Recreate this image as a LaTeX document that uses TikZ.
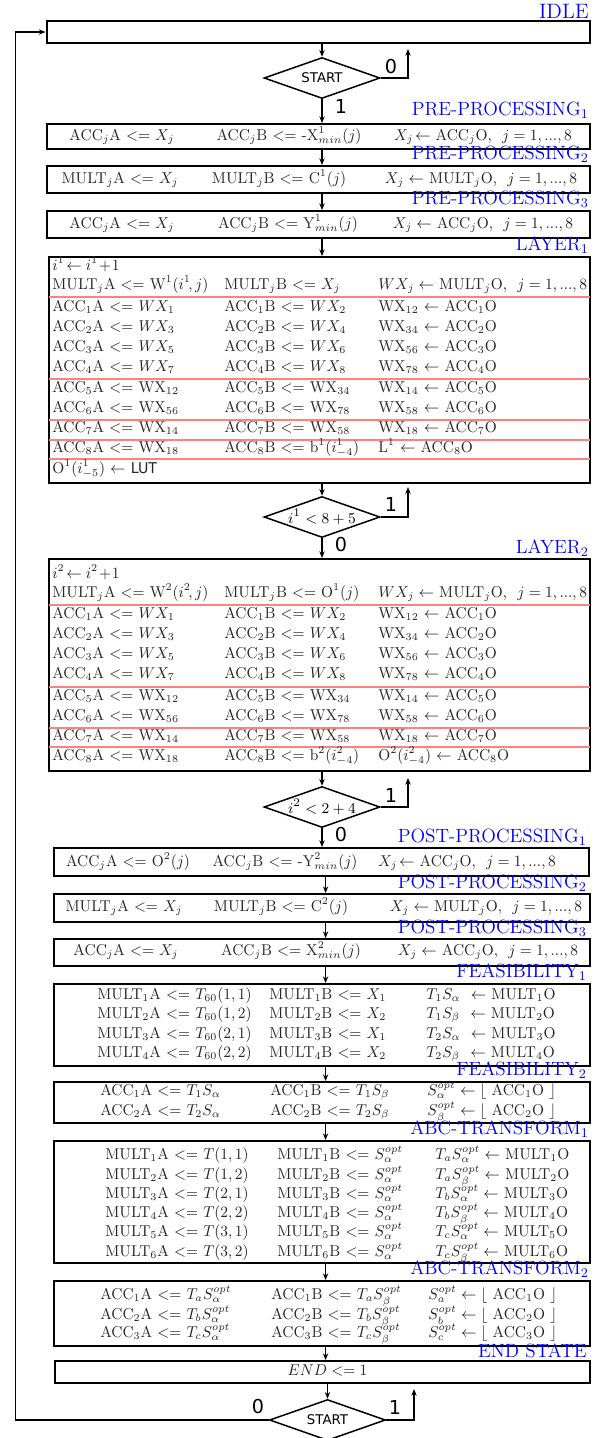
\documentclass[tikz,border=0pt]{standalone}
\usepackage{fontspec}
\usepackage{graphicx}
\newfontfamily\dejavu{DejaVu Sans}
\usetikzlibrary{shapes.geometric,arrows.meta,fit}
\newcommand{\sv}[1]{\scalebox{1}[1.05]{#1}}
\newcommand{\svl}[1]{#1}
\begin{document}
\begin{tikzpicture}[x=0.6pt,y=-0.6pt,
  box/.style={draw, line width=1.2pt, inner sep=0pt},
  tx/.style={text=black!85, font=\fontsize{9}{11}\selectfont, inner sep=0pt, anchor=mid},
  txl/.style={tx, anchor=mid west},
  lbl/.style={text=blue, font=\fontsize{11.5}{13}\selectfont, anchor=base east, inner sep=0pt},
  dec/.style={draw, diamond, line width=0.9pt, minimum width=69.6pt, minimum height=24.6pt, inner sep=0pt, aspect=2.83, font=\fontsize{9.5}{11}\selectfont},
  arr/.style={line width=0.9pt, -{Stealth[length=4pt,width=3.2pt]}},
  yn/.style={font=\dejavu\fontsize{11.5}{13}\selectfont, inner sep=0pt},
  sep/.style={draw=red!50, line width=1.1pt}]
\useasboundingbox (0,0) rectangle (605,1438);

% ---------- boxes ----------
\node[box, fit={(46.5,21) (590,43)}] (idle) {};
\node[box, fit={(46.5,124) (590,149)}] (pre1) {};
\node[box, fit={(46.5,166) (590,193)}] (pre2) {};
\node[box, fit={(46.5,211) (590,238)}] (pre3) {};
\node[box, fit={(49,257) (590,483)}] (lay1) {};
\node[box, fit={(49,559) (590,771)}] (lay2) {};
\node[box, fit={(53.5,848) (589,876)}] (post1) {};
\node[box, fit={(53.5,894) (590,922)}] (post2) {};
\node[box, fit={(53.5,939) (590,966)}] (post3) {};
\node[box, fit={(53.5,984) (590,1066)}] (feas1) {};
\node[box, fit={(53.5,1082) (590,1123)}] (feas2) {};
\node[box, fit={(54,1141) (590,1263)}] (abc1) {};
\node[box, fit={(54,1281) (590,1346)}] (abc2) {};
\node[box, fit={(55.4,1361) (590,1383)}] (endb) {};

% ---------- state labels ----------
\node[lbl, font=\fontsize{12.5}{15}\selectfont] (lidle) at (589,18) {IDLE};
\node[lbl] (lpre1) at (589,115.5) {PRE-PROCESSING$_1$};
\node[lbl] (lpre2) at (589,159.5) {PRE-PROCESSING$_2$};
\node[lbl] (lpre3) at (589,204.5) {PRE-PROCESSING$_3$};
\node[lbl] (llay1) at (589,250.5) {LAYER$_1$};
\node[lbl] (llay2) at (589,553.5) {LAYER$_2$};
\node[lbl] (lpost1) at (587,842.5) {POST-PROCESSING$_1$};
\node[lbl] (lpost2) at (587,888.5) {POST-PROCESSING$_2$};
\node[lbl] (lpost3) at (587,933.5) {POST-PROCESSING$_3$};
\node[lbl] (lfeas1) at (587,977.5) {FEASIBILITY$_1$};
\node[lbl] (lfeas2) at (587,1075.5) {FEASIBILITY$_2$};
\node[lbl] (labc1) at (589,1134.5) {ABC-TRANSFORM$_1$};
\node[lbl] (labc2) at (589,1274.5) {ABC-TRANSFORM$_2$};
\node[lbl] (lend) at (587,1357.5) {END STATE};

% ---------- decisions ----------
\node[dec] (d1) at (322,78) {\dejavu\fontsize{8}{9}\selectfont START};
\node[dec] (d2) at (322,517) {$i^1 < 8+5$};
\node[dec] (d3) at (322,807) {$i^2 < 2+4$};
\node[dec] (d4) at (327.5,1420) {\dejavu\fontsize{8}{9}\selectfont START};

\node[yn] (y1a) at (391,67) {0};
\node[yn] (y1b) at (341,107) {1};
\node[yn] (y2a) at (391,505) {1};
\node[yn] (y2b) at (341,545) {0};
\node[yn] (y3a) at (391,795) {1};
\node[yn] (y3b) at (341,835) {0};
\node[yn] (y4a) at (395,1407) {1};
\node[yn] (y4b) at (258,1407) {0};

% ---------- connectors ----------
\coordinate (ca) at (325.6,0);
\coordinate (r1) at (408,49);
\coordinate (r2) at (408,487);
\coordinate (r3) at (408,778);
\coordinate (r4) at (414,1389);
\coordinate (lc) at (15.5,1420);
\draw[arr] (d1 |- idle.south) -- (d1.north);
\draw[arr] (d1.east) -| (r1);
\draw[arr] (d1.south) -- (d1 |- pre1.north);
\draw[arr] (d1 |- pre1.south) -- (d1 |- pre2.north);
\draw[arr] (d1 |- pre2.south) -- (d1 |- pre3.north);
\draw[arr] (d1 |- pre3.south) -- (d1 |- lay1.north);
\draw[arr] (d2 |- lay1.south) -- (d2.north);
\draw[arr] (d2.east) -| (r2);
\draw[arr] (d2.south) -- (d2 |- lay2.north);
\draw[arr] (d3 |- lay2.south) -- (d3.north);
\draw[arr] (d3.east) -| (r3);
\draw[arr] (d3.south) -- (d3 |- post1.north);
\draw[arr] (ca |- post1.south) -- (ca |- post2.north);
\draw[arr] (ca |- post2.south) -- (ca |- post3.north);
\draw[arr] (ca |- post3.south) -- (ca |- feas1.north);
\draw[arr] (ca |- feas1.south) -- (ca |- feas2.north);
\draw[arr] (ca |- feas2.south) -- (ca |- abc1.north);
\draw[arr] (ca |- abc1.south) -- (ca |- abc2.north);
\draw[arr] (ca |- abc2.south) -- (ca |- endb.north);
\draw[arr] (d4 |- endb.south) -- (d4.north);
\draw[arr] (d4.east) -| (r4);
\draw[arr] (d4.west) -- (lc) |- (idle.west);

% ---------- pre-processing ----------
\node[tx] (p1a) at (122,137) {\sv{ACC$_j$A $<=$ $X_j$}};
\node[tx] (p1b) at (289,137) {\sv{ACC$_j$B $<=$ -X$^1_{min}(j)$}};
\node[tx] (p1c) at (483,137) {\sv{$X_j\!\leftarrow$ ACC$_j$O,\ \ $j=1,...,8$}};
\node[tx] (p2a) at (120,180) {\sv{MULT$_j$A $<=$ $X_j$}};
\node[tx] (p2b) at (279,180) {\sv{MULT$_j$B $<=$ C$^1(j)$}};
\node[tx] (p2c) at (481,180) {\sv{$X_j\leftarrow$ MULT$_j$O,\ \ $j=1,...,8$}};
\node[tx] (p3a) at (122,225) {\sv{ACC$_j$A $<=$ $X_j$}};
\node[tx] (p3b) at (288,225) {\sv{ACC$_j$B $<=$ Y$^1_{min}(j)$}};
\node[tx] (p3c) at (483,225) {\sv{$X_j\leftarrow$ ACC$_j$O,\ \ $j=1,...,8$}};

% ---------- layer 1 ----------
\foreach \yy in {297,379,420,440,459} \draw[sep] (49,\yy) -- (590,\yy);
\node[txl] (l1r0) at (52,267) {\sv{$i^1\!\leftarrow i^1\!+\!1$}};
\foreach [count=\k] \yy/\a/\b/\c in {
  286/{MULT$_j$A $<=$ W$^1(i^1\!,j)$}/{MULT$_j$B $<=$ $X_j$}/{$WX_j\leftarrow$ MULT$_j$O,\ \ $j=1,...,8$},
  308/{ACC$_1$A $<=$ $WX_1$}/{ACC$_1$B $<=$ $WX_2$}/{WX$_{12}$ $\leftarrow$ ACC$_1$O},
  328/{ACC$_2$A $<=$ $WX_3$}/{ACC$_2$B $<=$ $WX_4$}/{WX$_{34}$ $\leftarrow$ ACC$_2$O},
  348/{ACC$_3$A $<=$ $WX_5$}/{ACC$_3$B $<=$ $WX_6$}/{WX$_{56}$ $\leftarrow$ ACC$_3$O},
  368/{ACC$_4$A $<=$ $WX_7$}/{ACC$_4$B $<=$ $WX_8$}/{WX$_{78}$ $\leftarrow$ ACC$_4$O},
  389/{ACC$_5$A $<=$ WX$_{12}$}/{ACC$_5$B $<=$ WX$_{34}$}/{WX$_{14}$ $\leftarrow$ ACC$_5$O},
  409/{ACC$_6$A $<=$ WX$_{56}$}/{ACC$_6$B $<=$ WX$_{78}$}/{WX$_{58}$ $\leftarrow$ ACC$_6$O},
  429/{ACC$_7$A $<=$ WX$_{14}$}/{ACC$_7$B $<=$ WX$_{58}$}/{WX$_{18}$ $\leftarrow$ ACC$_7$O},
  449/{ACC$_8$A $<=$ WX$_{18}$}/{ACC$_8$B $<=$ b$^1(i^1_{-4})$}/{L$^1$ $\leftarrow$ ACC$_8$O}} {
  \node[txl] (l1a\k) at (52,\yy) {\sv{\a}};
  \node[txl] (l1b\k) at (224,\yy) {\sv{\b}};
  \node[txl] (l1c\k) at (378,\yy) {\sv{\c}};
}
\node[txl] (l1r10) at (52,470) {\sv{O$^1(i^1_{-5})$ $\leftarrow$ {\dejavu\fontsize{8.5}{11}\selectfont LUT}}};

% ---------- layer 2 ----------
\foreach \yy in {605,687,728,747} \draw[sep] (49,\yy) -- (590,\yy);
\node[txl] (l2r0) at (52,575) {\sv{$i^2\!\leftarrow i^2\!+\!1$}};
\foreach [count=\k] \yy/\a/\b/\c in {
  594/{MULT$_j$A $<=$ W$^2(i^2\!,j)$}/{MULT$_j$B $<=$ O$^1(j)$}/{$WX_j\leftarrow$ MULT$_j$O,\ \ $j=1,...,8$},
  615/{ACC$_1$A $<=$ $WX_1$}/{ACC$_1$B $<=$ $WX_2$}/{WX$_{12}$ $\leftarrow$ ACC$_1$O},
  635/{ACC$_2$A $<=$ $WX_3$}/{ACC$_2$B $<=$ $WX_4$}/{WX$_{34}$ $\leftarrow$ ACC$_2$O},
  655/{ACC$_3$A $<=$ $WX_5$}/{ACC$_3$B $<=$ $WX_6$}/{WX$_{56}$ $\leftarrow$ ACC$_3$O},
  675/{ACC$_4$A $<=$ $WX_7$}/{ACC$_4$B $<=$ $WX_8$}/{WX$_{78}$ $\leftarrow$ ACC$_4$O},
  697/{ACC$_5$A $<=$ WX$_{12}$}/{ACC$_5$B $<=$ WX$_{34}$}/{WX$_{14}$ $\leftarrow$ ACC$_5$O},
  717/{ACC$_6$A $<=$ WX$_{56}$}/{ACC$_6$B $<=$ WX$_{78}$}/{WX$_{58}$ $\leftarrow$ ACC$_6$O},
  737/{ACC$_7$A $<=$ WX$_{14}$}/{ACC$_7$B $<=$ WX$_{58}$}/{WX$_{18}$ $\leftarrow$ ACC$_7$O},
  757/{ACC$_8$A $<=$ WX$_{18}$}/{ACC$_8$B $<=$ b$^2(i^2_{-4})$}/{O$^2(i^2_{-4})$ $\leftarrow$ ACC$_8$O}} {
  \node[txl] (l2a\k) at (52,\yy) {\sv{\a}};
  \node[txl] (l2b\k) at (224,\yy) {\sv{\b}};
  \node[txl] (l2c\k) at (378,\yy) {\sv{\c}};
}

% ---------- post-processing ----------
\node[tx] (q1a) at (128,863) {\sv{ACC$_j$A $<=$ O$^2(j)$}};
\node[tx] (q1b) at (285,863) {\sv{ACC$_j$B $<=$ -Y$^2_{min}(j)$}};
\node[tx] (q1c) at (467,863) {\sv{$X_j\!\leftarrow$ ACC$_j$O,\ \ $j=1,...,8$}};
\node[tx] (q2a) at (124,908) {\sv{MULT$_j$A $<=$ $X_j$}};
\node[tx] (q2b) at (281,908) {\sv{MULT$_j$B $<=$ C$^2(j)$}};
\node[tx] (q2c) at (486,908) {\sv{$X_j\leftarrow$ MULT$_j$O,\ \ $j=1,...,8$}};
\node[tx] (q3a) at (126,952) {\sv{ACC$_j$A $<=$ $X_j$}};
\node[tx] (q3b) at (291,952) {\sv{ACC$_j$B $<=$ X$^2_{min}(j)$}};
\node[tx] (q3c) at (488,952) {\sv{$X_j\leftarrow$ ACC$_j$O,\ \ $j=1,...,8$}};

% ---------- feasibility ----------
\foreach [count=\k] \yy/\a/\b/\c in {
  996/{MULT$_1$A $<=$ $T_{60}(1,1)$}/{MULT$_1$B $<=$ $X_1$}/{$T_1S_\alpha$\ \ $\leftarrow$ MULT$_1$O},
  1015/{MULT$_2$A $<=$ $T_{60}(1,2)$}/{MULT$_2$B $<=$ $X_2$}/{$T_1S_\beta$\ \ $\leftarrow$ MULT$_2$O},
  1035/{MULT$_3$A $<=$ $T_{60}(2,1)$}/{MULT$_3$B $<=$ $X_1$}/{$T_2S_\alpha$\ \ $\leftarrow$ MULT$_3$O},
  1054/{MULT$_4$A $<=$ $T_{60}(2,2)$}/{MULT$_4$B $<=$ $X_2$}/{$T_2S_\beta$\ \ $\leftarrow$ MULT$_4$O}} {
  \node[txl] (f1a\k) at (97,\yy) {\sv{\a}};
  \node[txl] (f1b\k) at (269,\yy) {\sv{\b}};
  \node[txl] (f1c\k) at (426,\yy) {\sv{\c}};
}
\foreach [count=\k] \yy/\a/\b/\c in {
  1092/{ACC$_1$A $<=$ $T_1S_\alpha$}/{ACC$_1$B $<=$ $T_1S_\beta$}/{$S^{opt}_\alpha\leftarrow\lfloor$ ACC$_1$O $\rfloor$},
  1112/{ACC$_2$A $<=$ $T_2S_\alpha$}/{ACC$_2$B $<=$ $T_2S_\beta$}/{$S^{opt}_\beta\leftarrow\lfloor$ ACC$_2$O $\rfloor$}} {
  \node[txl] (f2a\k) at (100,\yy) {\sv{\a}};
  \node[txl] (f2b\k) at (270,\yy) {\sv{\b}};
  \node[txl] (f2c\k) at (427,\yy) {\sv{\c}};
}

% ---------- abc transform ----------
\foreach [count=\k] \yy/\a/\b/\c in {
  1156/{MULT$_1$A $<=$ $T(1,1)$}/{MULT$_1$B $<=$ $S^{opt}_\alpha$}/{$T_aS^{opt}_\alpha\leftarrow$ MULT$_1$O},
  1176/{MULT$_2$A $<=$ $T(1,2)$}/{MULT$_2$B $<=$ $S^{opt}_\alpha$}/{$T_aS^{opt}_\beta\leftarrow$ MULT$_2$O},
  1195/{MULT$_3$A $<=$ $T(2,1)$}/{MULT$_3$B $<=$ $S^{opt}_\alpha$}/{$T_bS^{opt}_\alpha\leftarrow$ MULT$_3$O},
  1214/{MULT$_4$A $<=$ $T(2,2)$}/{MULT$_4$B $<=$ $S^{opt}_\alpha$}/{$T_bS^{opt}_\beta\leftarrow$ MULT$_4$O},
  1233/{MULT$_5$A $<=$ $T(3,1)$}/{MULT$_5$B $<=$ $S^{opt}_\alpha$}/{$T_cS^{opt}_\alpha\leftarrow$ MULT$_5$O},
  1253/{MULT$_6$A $<=$ $T(3,2)$}/{MULT$_6$B $<=$ $S^{opt}_\alpha$}/{$T_cS^{opt}_\beta\leftarrow$ MULT$_6$O}} {
  \node[txl] (t1a\k) at (105,\yy) {\sv{\a}};
  \node[txl] (t1b\k) at (277,\yy) {\sv{\b}};
  \node[txl] (t1c\k) at (435,\yy) {\sv{\c}};
}
\foreach [count=\k] \yy/\a/\b/\c in {
  1296/{ACC$_1$A $<=$ $T_aS^{opt}_\alpha$}/{ACC$_1$B $<=$ $T_aS^{opt}_\beta$}/{$S^{opt}_a\leftarrow\lfloor$ ACC$_1$O $\rfloor$},
  1316/{ACC$_2$A $<=$ $T_bS^{opt}_\alpha$}/{ACC$_2$B $<=$ $T_bS^{opt}_\beta$}/{$S^{opt}_b\leftarrow\lfloor$ ACC$_2$O $\rfloor$}, 
  1334/{ACC$_3$A $<=$ $T_cS^{opt}_\alpha$}/{ACC$_3$B $<=$ $T_cS^{opt}_\beta$}/{$S^{opt}_c\leftarrow\lfloor$ ACC$_3$O $\rfloor$}} {
  \node[txl] (t2a\k) at (100,\yy) {\sv{\a}};
  \node[txl] (t2b\k) at (271,\yy) {\sv{\b}};
  \node[txl] (t2c\k) at (428,\yy) {\sv{\c}};
}

% ---------- end ----------
\node[tx] (endt) at (327.5,1372) {\sv{$END <= 1$}};
\end{tikzpicture}
\end{document}
